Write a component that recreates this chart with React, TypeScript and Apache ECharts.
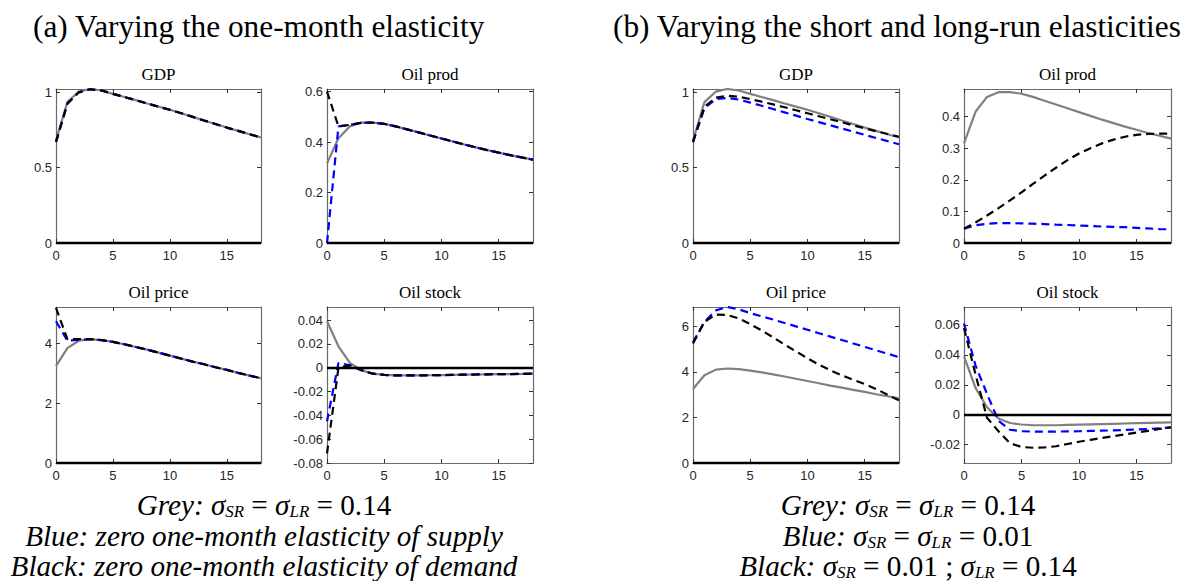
import React, { useEffect, useRef } from "react";
import * as echarts from "echarts";

// ---------- data ----------
const horizon = [0, 1, 2, 3, 4, 5, 6, 7, 8, 9, 10, 11, 12, 13, 14, 15, 16, 17, 18];
const xTicks = [0, 5, 10, 15];

// Panel (a): varying the one-month elasticity
const aGdpGrey = [0.68, 0.935, 1.005, 1.022, 1.012, 0.99, 0.969, 0.948, 0.926, 0.905, 0.884, 0.861, 0.837, 0.813, 0.79, 0.766, 0.744, 0.722, 0.7];
const aGdpBlue = [0.67, 0.925, 1.0, 1.02, 1.012, 0.99, 0.969, 0.948, 0.926, 0.905, 0.884, 0.861, 0.837, 0.813, 0.79, 0.766, 0.744, 0.722, 0.7];
const aGdpBlack = [0.67, 0.925, 1.0, 1.02, 1.012, 0.99, 0.969, 0.948, 0.926, 0.905, 0.884, 0.861, 0.837, 0.813, 0.79, 0.766, 0.744, 0.722, 0.7];

const aProdGrey = [0.315, 0.415, 0.462, 0.477, 0.477, 0.472, 0.462, 0.45, 0.438, 0.426, 0.414, 0.402, 0.39, 0.379, 0.368, 0.358, 0.348, 0.339, 0.33];
const aProdBlue = [0.0, 0.462, 0.468, 0.476, 0.477, 0.472, 0.462, 0.45, 0.438, 0.426, 0.414, 0.402, 0.39, 0.379, 0.368, 0.358, 0.348, 0.339, 0.33];
const aProdBlack = [0.6, 0.462, 0.468, 0.476, 0.477, 0.472, 0.462, 0.45, 0.438, 0.426, 0.414, 0.402, 0.39, 0.379, 0.368, 0.358, 0.348, 0.339, 0.33];

const aPriceGrey = [3.25, 3.85, 4.1, 4.15, 4.12, 4.06, 3.98, 3.89, 3.8, 3.7, 3.6, 3.5, 3.4, 3.31, 3.21, 3.12, 3.02, 2.93, 2.84];
const aPriceBlue = [4.75, 4.1, 4.13, 4.15, 4.12, 4.06, 3.98, 3.89, 3.8, 3.7, 3.6, 3.5, 3.4, 3.31, 3.21, 3.12, 3.02, 2.93, 2.84];
const aPriceBlack = [5.2, 4.15, 4.15, 4.15, 4.12, 4.06, 3.98, 3.89, 3.8, 3.7, 3.6, 3.5, 3.4, 3.31, 3.21, 3.12, 3.02, 2.93, 2.84];

const aStockGrey = [0.039, 0.018, 0.004, -0.002, -0.005, -0.006, -0.0065, -0.0065, -0.0065, -0.0063, -0.0062, -0.006, -0.0058, -0.0057, -0.0055, -0.0054, -0.0053, -0.0052, -0.005];
const aStockBlue = [-0.045, 0.004, 0.002, -0.002, -0.005, -0.006, -0.0065, -0.0065, -0.0065, -0.0063, -0.0062, -0.006, -0.0058, -0.0057, -0.0055, -0.0054, -0.0053, -0.0052, -0.005];
const aStockBlack = [-0.072, 0.0, 0.002, -0.002, -0.005, -0.006, -0.0065, -0.0065, -0.0065, -0.0063, -0.0062, -0.006, -0.0058, -0.0057, -0.0055, -0.0054, -0.0053, -0.0052, -0.005];

// Panel (b): varying the short and long-run elasticities
const bGdpGrey = [0.68, 0.935, 1.005, 1.022, 1.012, 0.99, 0.969, 0.948, 0.926, 0.905, 0.884, 0.861, 0.837, 0.813, 0.79, 0.766, 0.744, 0.722, 0.7];
const bGdpBlue = [0.67, 0.895, 0.955, 0.963, 0.952, 0.932, 0.911, 0.889, 0.867, 0.845, 0.823, 0.802, 0.781, 0.76, 0.739, 0.718, 0.697, 0.676, 0.655];
const bGdpBlack = [0.67, 0.905, 0.965, 0.977, 0.97, 0.955, 0.938, 0.92, 0.901, 0.881, 0.861, 0.841, 0.821, 0.801, 0.781, 0.761, 0.742, 0.723, 0.705];

const bProdGrey = [0.315, 0.415, 0.462, 0.477, 0.477, 0.472, 0.462, 0.45, 0.438, 0.426, 0.414, 0.402, 0.39, 0.379, 0.368, 0.358, 0.348, 0.339, 0.33];
const bProdBlue = [0.045, 0.056, 0.061, 0.063, 0.063, 0.062, 0.061, 0.06, 0.058, 0.057, 0.055, 0.054, 0.052, 0.051, 0.05, 0.048, 0.046, 0.044, 0.043];
const bProdBlack = [0.045, 0.065, 0.087, 0.11, 0.135, 0.16, 0.187, 0.213, 0.238, 0.262, 0.283, 0.3, 0.315, 0.327, 0.336, 0.342, 0.345, 0.346, 0.346];

const bPriceGrey = [3.25, 3.85, 4.1, 4.15, 4.12, 4.06, 3.98, 3.89, 3.8, 3.7, 3.6, 3.5, 3.4, 3.31, 3.21, 3.12, 3.02, 2.93, 2.84];
const bPriceBlue = [5.3, 6.2, 6.7, 6.85, 6.75, 6.58, 6.44, 6.3, 6.15, 6.0, 5.85, 5.7, 5.55, 5.4, 5.25, 5.1, 4.95, 4.8, 4.65];
const bPriceBlack = [5.25, 6.2, 6.52, 6.5, 6.35, 6.1, 5.82, 5.52, 5.2, 4.9, 4.6, 4.32, 4.07, 3.85, 3.65, 3.47, 3.25, 3.0, 2.75];

const bStockGrey = [0.039, 0.018, 0.005, -0.0025, -0.0055, -0.0065, -0.007, -0.007, -0.007, -0.0068, -0.0066, -0.0064, -0.0062, -0.006, -0.0058, -0.0056, -0.0054, -0.0052, -0.005];
const bStockBlue = [0.061, 0.033, 0.014, -0.004, -0.01, -0.011, -0.0112, -0.0112, -0.0112, -0.0111, -0.011, -0.0108, -0.0106, -0.0104, -0.0101, -0.0098, -0.0095, -0.009, -0.0085];
const bStockBlack = [0.058, 0.027, -0.002, -0.011, -0.019, -0.0215, -0.022, -0.0218, -0.021, -0.0195, -0.018, -0.0167, -0.0155, -0.0143, -0.0131, -0.0119, -0.0107, -0.0095, -0.0083];

// tick labels
const gdpTicks = [0, 0.5, 1];
const aProdTicks = [0, 0.2, 0.4, 0.6];
const aPriceTicks = [0, 2, 4];
const aStockTicks = [-0.08, -0.06, -0.04, -0.02, 0, 0.02, 0.04];
const bProdTicks = [0, 0.1, 0.2, 0.3, 0.4];
const bPriceTicks = [0, 2, 4, 6];
const bStockTicks = [-0.02, 0, 0.02, 0.04, 0.06];

const panelTitles = ["GDP", "Oil prod", "Oil price", "Oil stock"];
const headA = "(a) Varying the one-month elasticity";
const headB = "(b) Varying the short and long-run elasticities";

// ---------- layout ----------
const SERIF = "Liberation Serif";
const SANS = "Liberation Sans";
const AXIS_COLOR = "#6a6a6a";
const LABEL_COLOR = "#262626";

type Panel = {
  title: string;
  left: number;
  top: number;
  width: number;
  height: number;
  yMin: number;
  yMax: number;
  yTicks: number[];
  grey: number[];
  blue: number[];
  black: number[];
};

const TOP1 = 89, H1 = 154, TOP2 = 307, H2 = 156;
const panels: Panel[] = [
  { title: panelTitles[0], left: 56, top: TOP1, width: 205, height: H1, yMin: 0, yMax: 1.022, yTicks: gdpTicks, grey: aGdpGrey, blue: aGdpBlue, black: aGdpBlack },
  { title: panelTitles[1], left: 327, top: TOP1, width: 206, height: H1, yMin: 0, yMax: 0.61, yTicks: aProdTicks, grey: aProdGrey, blue: aProdBlue, black: aProdBlack },
  { title: panelTitles[2], left: 56, top: TOP2, width: 205, height: H2, yMin: 0, yMax: 5.23, yTicks: aPriceTicks, grey: aPriceGrey, blue: aPriceBlue, black: aPriceBlack },
  { title: panelTitles[3], left: 327, top: TOP2, width: 206, height: H2, yMin: -0.08, yMax: 0.051, yTicks: aStockTicks, grey: aStockGrey, blue: aStockBlue, black: aStockBlack },
  { title: panelTitles[0], left: 693, top: TOP1, width: 206, height: H1, yMin: 0, yMax: 1.022, yTicks: gdpTicks, grey: bGdpGrey, blue: bGdpBlue, black: bGdpBlack },
  { title: panelTitles[1], left: 964, top: TOP1, width: 207, height: H1, yMin: 0, yMax: 0.487, yTicks: bProdTicks, grey: bProdGrey, blue: bProdBlue, black: bProdBlack },
  { title: panelTitles[2], left: 693, top: TOP2, width: 206, height: H2, yMin: 0, yMax: 6.85, yTicks: bPriceTicks, grey: bPriceGrey, blue: bPriceBlue, black: bPriceBlack },
  { title: panelTitles[3], left: 964, top: TOP2, width: 207, height: H2, yMin: -0.0322, yMax: 0.072, yTicks: bStockTicks, grey: bStockGrey, blue: bStockBlue, black: bStockBlack },
];

function fitFont(text: string, style: string, target: number): number {
  try {
    const ctx = document.createElement("canvas").getContext("2d");
    if (!ctx) return 22;
    ctx.font = `${style} 100px "${SERIF}"`;
    const w = ctx.measureText(text).width;
    return w > 0 ? (100 * target) / w : 22;
  } catch (e) {
    return 22;
  }
}

function buildOption() {
  const grid: any[] = [];
  const xAxis: any[] = [];
  const yAxis: any[] = [];
  const series: any[] = [];
  const graphic: any[] = [];

  const axisLine = { show: true, onZero: false, lineStyle: { color: AXIS_COLOR, width: 1.2 } };
  const tickStyle = { color: "#333", width: 1 };
  const tickLabel = { fontFamily: SANS, fontSize: 13, color: LABEL_COLOR };

  panels.forEach((p, i) => {
    grid.push({ left: p.left, top: p.top, width: p.width, height: p.height, containLabel: false });
    const xBase = {
      gridIndex: i, type: "value", min: 0, max: 18,
      axisLine, splitLine: { show: false },
    };
    xAxis.push({
      ...xBase, position: "bottom",
      axisTick: { show: true, inside: true, length: 4, customValues: xTicks, lineStyle: tickStyle },
      axisLabel: { show: true, customValues: xTicks, ...tickLabel, margin: 6 },
    });
    xAxis.push({
      ...xBase, position: "top",
      axisTick: { show: true, inside: true, length: 4, customValues: xTicks, lineStyle: tickStyle },
      axisLabel: { show: false },
    });
    const yBase = {
      gridIndex: i, type: "value", min: p.yMin, max: p.yMax, scale: true,
      axisLine, splitLine: { show: false },
    };
    yAxis.push({
      ...yBase, position: "left",
      axisTick: { show: true, inside: true, length: 4, customValues: p.yTicks, lineStyle: tickStyle },
      axisLabel: { show: true, customValues: p.yTicks, ...tickLabel, margin: 4 },
    });
    yAxis.push({
      ...yBase, position: "right",
      axisTick: { show: true, inside: true, length: 4, customValues: p.yTicks, lineStyle: tickStyle },
      axisLabel: { show: false },
    });

    const toPts = (arr: number[]) => horizon.map((h, j) => [h, arr[j]]);
    const common = {
      type: "line", xAxisIndex: 2 * i, yAxisIndex: 2 * i,
      symbol: "none", showSymbol: false, silent: true, clip: true,
    };
    series.push({
      ...common, name: "Grey", z: 2, data: toPts(p.grey),
      lineStyle: { color: "#808080", width: 2.2, type: "solid" },
      markLine: {
        silent: true, symbol: ["none", "none"], label: { show: false },
        lineStyle: { color: "#000", width: 2.4, type: "solid" },
        data: [{ yAxis: 0 }],
        z: 5,
      },
    });
    series.push({
      ...common, name: "Blue", z: 3, data: toPts(p.blue),
      lineStyle: { color: "#0000ff", width: 2.2, type: [8, 5] },
    });
    series.push({
      ...common, name: "Black", z: 4, data: toPts(p.black),
      lineStyle: { color: "#0a0000", width: 2.2, type: [8, 5] },
    });

    graphic.push({
      type: "text", x: p.left + p.width / 2, y: p.top - 15,
      style: { text: p.title, fontFamily: SERIF, fontSize: 17, fill: "#000", align: "center", verticalAlign: "middle" },
    });
  });

  // headings
  const headSize = fitFont(headA, "normal", 452);
  graphic.push({
    type: "text", x: 33, y: 26,
    style: { text: headA, fontFamily: SERIF, fontSize: headSize, fill: "#000", align: "left", verticalAlign: "middle" },
  });
  graphic.push({
    type: "text", x: 613, y: 26,
    style: { text: headB, fontFamily: SERIF, fontSize: headSize, fill: "#000", align: "left", verticalAlign: "middle" },
  });

  // captions
  const capSize = fitFont("Blue: zero one-month elasticity of supply", "italic", 478);
  const subSize = capSize * 0.58;
  const rich = {
    it: { fontFamily: SERIF, fontStyle: "italic", fontSize: capSize, lineHeight: 30, fill: "#000" },
    rm: { fontFamily: SERIF, fontStyle: "normal", fontSize: capSize, lineHeight: 30, fill: "#000" },
    sub: { fontFamily: SERIF, fontStyle: "italic", fontSize: subSize, lineHeight: subSize, verticalAlign: "bottom", fill: "#000" },
  };
  const capLines = (cx: number, lines: string[]) => {
    lines.forEach((t, k) => {
      graphic.push({
        type: "text", x: cx, y: 505 + k * 30.5,
        style: { text: t, rich, align: "center", verticalAlign: "middle", fontFamily: SERIF, fontSize: capSize },
      });
    });
  };
  capLines(264, [
    "{it|Grey: σ}{sub|SR}{rm| = }{it|σ}{sub|LR}{rm| = 0.14}",
    "{it|Blue: zero one-month elasticity of supply}",
    "{it|Black: zero one-month elasticity of demand}",
  ]);
  capLines(908, [
    "{it|Grey: σ}{sub|SR}{rm| = }{it|σ}{sub|LR}{rm| = 0.14}",
    "{it|Blue: σ}{sub|SR}{rm| = }{it|σ}{sub|LR}{rm| = 0.01}",
    "{it|Black: σ}{sub|SR}{rm| = 0.01 ; }{it|σ}{sub|LR}{rm| = 0.14}",
  ]);

  return {
    animation: false,
    backgroundColor: "#ffffff",
    grid, xAxis, yAxis, series, graphic,
  };
}

export default function App() {
  const ref = useRef<HTMLDivElement>(null);
  useEffect(() => {
    document.body.style.margin = "0";
    if (!ref.current) return;
    const chart = echarts.init(ref.current, undefined, { renderer: "svg" });
    chart.setOption(buildOption() as any);
    return () => chart.dispose();
  }, []);
  return <div ref={ref} style={{ width: 1194, height: 581, background: "#fff" }} />;
}
